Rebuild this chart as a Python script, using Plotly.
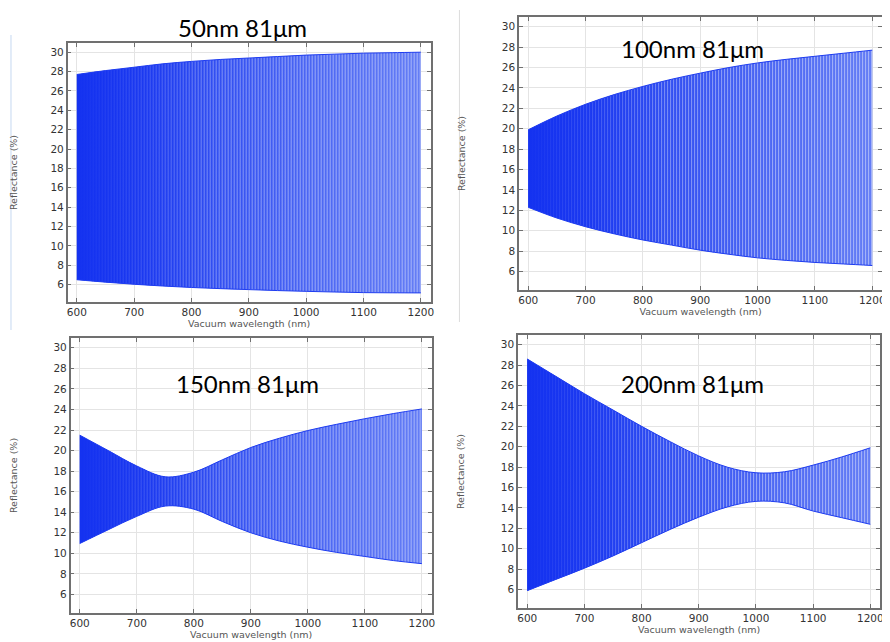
import plotly.graph_objects as go

wavelength = [600, 650, 700, 750, 800, 850, 900, 950, 1000, 1050, 1100, 1150, 1200]

# upper / lower envelope of the reflectance fringes (%)
upper_50 = [27.7, 28.1, 28.45, 28.8, 29.05, 29.25, 29.4, 29.55, 29.7, 29.8, 29.9, 29.95, 30.0]
lower_50 = [6.5, 6.25, 6.03, 5.85, 5.7, 5.58, 5.48, 5.38, 5.3, 5.23, 5.17, 5.15, 5.14]

upper_100 = [19.9, 21.25, 22.4, 23.35, 24.15, 24.85, 25.45, 26.0, 26.45, 26.8, 27.1, 27.4, 27.7]
lower_100 = [12.3, 11.25, 10.4, 9.7, 9.1, 8.6, 8.1, 7.7, 7.35, 7.1, 6.9, 6.75, 6.6]

upper_150 = [21.5, 20.0, 18.5, 17.45, 17.9, 19.1, 20.3, 21.2, 21.95, 22.55, 23.1, 23.6, 24.05]
lower_150 = [10.96, 12.3, 13.6, 14.6, 14.3, 13.1, 12.0, 11.2, 10.6, 10.1, 9.7, 9.3, 9.0]

upper_200 = [28.6, 26.9, 25.2, 23.6, 22.0, 20.5, 19.1, 18.0, 17.45, 17.55, 18.2, 19.0, 19.9]
lower_200 = [5.9, 7.0, 8.1, 9.3, 10.6, 11.9, 13.1, 14.1, 14.65, 14.5, 13.7, 13.05, 12.4]

titles = ["50nm 81μm", "100nm 81μm", "150nm 81μm", "200nm 81μm"]
uppers = [upper_50, upper_100, upper_150, upper_200]
lowers = [lower_50, lower_100, lower_150, lower_200]

x_ticks = [600, 700, 800, 900, 1000, 1100, 1200]
y_ticks = [6, 8, 10, 12, 14, 16, 18, 20, 22, 24, 26, 28, 30]

# page body has an 8px margin, so the figure is a bit smaller and shifted
OFF = 8
W, H = 890 - OFF, 642 - OFF


def px(x):
    return (x - OFF) / W


def py(y):
    return 1 - (y - OFF) / H


# panel placement in screen pixels: x extent, y extent, title centre
panels = [
    dict(xd=[67, 432], yd=[43, 302], tpos=(243, 27)),
    dict(xd=[521, 886], yd=[17, 290], tpos=(695, 48)),
    dict(xd=[70, 433], yd=[338, 613], tpos=(248, 383)),
    dict(xd=[520, 884], yd=[335, 608], tpos=(695, 383)),
]

BLUE = "rgb(30,60,240)"

fig = go.Figure()
layout = dict(width=W, height=H, margin=dict(l=0, r=0, t=0, b=0),
              paper_bgcolor="white", plot_bgcolor="white", showlegend=False,
              annotations=[], shapes=[])


def band(x, lo, up, xa, ya, **fill):
    fig.add_trace(go.Scatter(x=x, y=lo, xaxis=xa, yaxis=ya, mode="lines",
                             line=dict(width=0, shape="spline"), hoverinfo="skip"))
    fig.add_trace(go.Scatter(x=x, y=up, xaxis=xa, yaxis=ya, mode="lines",
                             line=dict(width=0, shape="spline"), fill="tonexty",
                             hoverinfo="skip", **fill))


for i, p in enumerate(panels):
    n = "" if i == 0 else str(i + 1)
    xa, ya = "x" + n, "y" + n
    # base band, blue getting lighter to the right
    band(wavelength, lowers[i], uppers[i], xa, ya,
         fillgradient=dict(type="horizontal",
                           colorscale=[[0, "rgb(25,55,240)"], [0.3, "rgb(45,75,241)"],
                                       [1, "rgb(100,125,245)"]]))
    # fringe stripes
    band(wavelength, lowers[i], uppers[i], xa, ya,
         fillcolor="rgba(0,0,0,0)",
         fillpattern=dict(shape="|", fgcolor="white", fgopacity=0.5,
                          bgcolor="rgba(0,0,0,0)", size=3, solidity=0.3))
    # dense region on the short wavelength side
    band(wavelength, lowers[i], uppers[i], xa, ya,
         fillgradient=dict(type="horizontal", start=600, stop=1000,
                           colorscale=[[0, "rgba(20,50,240,1)"], [0.3, "rgba(22,52,240,0.6)"],
                                       [0.6, "rgba(30,60,240,0.15)"], [1, "rgba(30,60,240,0)"]]))
    # crisp envelope edges
    for env in (lowers[i], uppers[i]):
        fig.add_trace(go.Scatter(x=wavelength, y=env, xaxis=xa, yaxis=ya, mode="lines",
                                 line=dict(color=BLUE, width=1, shape="spline"), hoverinfo="skip"))

    ax_common = dict(showgrid=True, gridcolor="#e4e4e4", gridwidth=1, zeroline=False,
                     showline=True, linecolor="#707070", linewidth=1.5, mirror="ticks",
                     ticks="inside", ticklen=4, tickcolor="#707070",
                     tickfont=dict(family="DejaVu Sans", size=10.5, color="#333"))
    layout["xaxis" + n] = dict(ax_common, domain=[px(p["xd"][0]), px(p["xd"][1])],
                               anchor=ya, range=[584, 1217], tickvals=x_ticks,
                               title=dict(text="Vacuum wavelength (nm)", standoff=1,
                                          font=dict(family="DejaVu Sans", size=9.5, color="#555")))
    layout["yaxis" + n] = dict(ax_common, domain=[py(p["yd"][1]), py(p["yd"][0])],
                               anchor=xa, range=[4.2, 30.95], tickvals=y_ticks,
                               title=dict(text="Reflectance (%)", standoff=35,
                                          font=dict(family="DejaVu Sans", size=9.5, color="#555")))
    layout["annotations"].append(dict(text=titles[i], xref="paper", yref="paper",
                                      x=px(p["tpos"][0]), y=py(p["tpos"][1]),
                                      xanchor="center", yanchor="middle", showarrow=False,
                                      font=dict(family="Lato", size=24, color="black")))

# edges of the pasted screenshots
layout["shapes"].append(dict(type="line", xref="paper", yref="paper", x0=px(10), x1=px(10),
                             y0=py(35), y1=py(330), line=dict(color="#c5d9f1", width=1)))
layout["shapes"].append(dict(type="line", xref="paper", yref="paper", x0=px(461), x1=px(461),
                             y0=py(10), y1=py(322), line=dict(color="#dcdcdc", width=1)))

fig.update_layout(layout)
fig.write_html("out.html")
